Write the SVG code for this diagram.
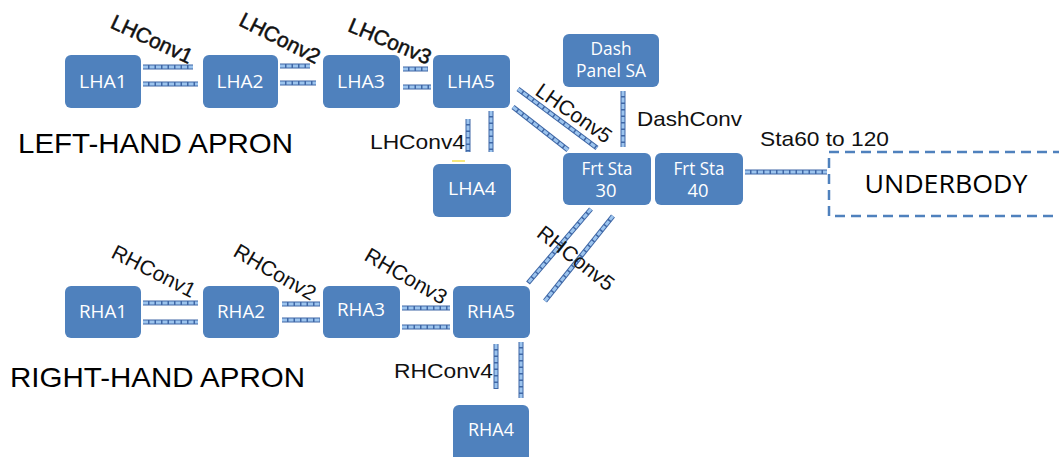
<svg xmlns="http://www.w3.org/2000/svg" width="1059" height="457" viewBox="0 0 1059 457">
<style>
.n{fill:#4f81bd}
.nt{font-family:"Open Sans","Liberation Sans",sans-serif;font-size:17.5px;fill:#fff;text-anchor:middle}
.lb{font-family:"Liberation Sans",Arial,sans-serif;font-size:21px;fill:#111;text-anchor:middle}
.lh{stroke:#111;stroke-width:0.5}
.big{font-family:"Liberation Sans",Arial,sans-serif;font-size:28px;fill:#000}
.cb{stroke:#3f67a6;stroke-width:5;fill:none}
.cd{stroke:#9cc4ee;stroke-width:3;stroke-dasharray:5 1.5;fill:none}
</style>
<rect width="1059" height="457" fill="#fff"/>
<g id="connectors">
  <path class="cb" d="M143 67H193M143 84H198"/><path class="cd" d="M143 67H193M143 84H198"/>
  <path class="cb" d="M280 66H310M280 83H316"/><path class="cd" d="M280 66H310M280 83H316"/>
  <path class="cb" d="M403 69H428M403 87H431"/><path class="cd" d="M403 69H428M403 87H431"/>
  <path class="cb" d="M468 119V152M491 111V152"/><path class="cd" d="M468 119V152M491 111V152"/>
  <path class="cb" d="M518 89L597 148M513 107L568 150"/><path class="cd" d="M518 89L597 148M513 107L568 150"/>
  <path class="cb" d="M623 91V147"/><path class="cd" d="M623 91V147"/>
  <path class="cb" d="M745 172H827"/><path class="cd" d="M745 172H827"/>
  <path class="cb" d="M143 303H198M143 322H198"/><path class="cd" d="M143 303H198M143 322H198"/>
  <path class="cb" d="M282 304H320M282 320H320"/><path class="cd" d="M282 304H320M282 320H320"/>
  <path class="cb" d="M402 308H450M402 327H450"/><path class="cd" d="M402 308H450M402 327H450"/>
  <path class="cb" d="M496 344V389M521 342V398"/><path class="cd" d="M496 344V389M521 342V398"/>
  <path class="cb" d="M591 209L528 283M613 216L545 301"/><path class="cd" d="M591 209L528 283M613 216L545 301"/>
  <line x1="452" y1="161" x2="465" y2="161" stroke="#f5e050" stroke-width="1.5"/>
</g>
<g id="labels">
  <text class="lb lh" transform="translate(152,39) rotate(25)" dy="0.35em">LHConv1</text>
  <text class="lb lh" transform="translate(280,38) rotate(27)" dy="0.35em">LHConv2</text>
  <text class="lb lh" transform="translate(390,41) rotate(23)" dy="0.35em">LHConv3</text>
  <text class="lb" x="465" y="149" style="text-anchor:end" textLength="95" lengthAdjust="spacingAndGlyphs">LHConv4</text>
  <text class="lb" transform="translate(574,113) rotate(35)" dy="0.35em">LHConv5</text>
  <text class="lb" x="637" y="126" style="text-anchor:start" textLength="105" lengthAdjust="spacingAndGlyphs">DashConv</text>
  <text class="lb" x="760" y="146" style="text-anchor:start" textLength="129" lengthAdjust="spacingAndGlyphs">Sta60 to 120</text>
  <text class="lb" transform="translate(154,271) rotate(27)" dy="0.35em">RHConv1</text>
  <text class="lb" transform="translate(275,272) rotate(30)" dy="0.35em">RHConv2</text>
  <text class="lb" transform="translate(406,276) rotate(30)" dy="0.35em">RHConv3</text>
  <text class="lb" x="493" y="378" style="text-anchor:end" textLength="99" lengthAdjust="spacingAndGlyphs">RHConv4</text>
  <text class="lb" transform="translate(576,258) rotate(38)" dy="0.35em">RHConv5</text>
  <text class="big" x="18" y="153" textLength="275" lengthAdjust="spacingAndGlyphs">LEFT-HAND APRON</text>
  <text class="big" x="10" y="387" textLength="295" lengthAdjust="spacingAndGlyphs">RIGHT-HAND APRON</text>
</g>
<g id="LHA1"><rect class="n" x="65" y="55" width="76" height="53" rx="6"/><text class="nt" x="103" y="88" textLength="48" lengthAdjust="spacingAndGlyphs">LHA1</text></g>
<g id="LHA2"><rect class="n" x="203" y="55" width="75" height="53" rx="6"/><text class="nt" x="240" y="88" textLength="47" lengthAdjust="spacingAndGlyphs">LHA2</text></g>
<g id="LHA3"><rect class="n" x="323" y="55" width="77" height="53" rx="6"/><text class="nt" x="361" y="88" textLength="48" lengthAdjust="spacingAndGlyphs">LHA3</text></g>
<g id="LHA5"><rect class="n" x="433" y="55" width="77" height="53" rx="6"/><text class="nt" x="471" y="88" textLength="48" lengthAdjust="spacingAndGlyphs">LHA5</text></g>
<g id="LHA4"><rect class="n" x="433" y="164" width="78" height="53" rx="6"/><text class="nt" x="472" y="195" textLength="48" lengthAdjust="spacingAndGlyphs">LHA4</text></g>
<g id="DashPanelSA"><rect class="n" x="563" y="34" width="96" height="53" rx="6"/><text class="nt" x="611" y="55" textLength="41" lengthAdjust="spacingAndGlyphs">Dash</text><text class="nt" x="611" y="77" textLength="70" lengthAdjust="spacingAndGlyphs">Panel SA</text></g>
<g id="FrtSta30"><rect class="n" x="563" y="153" width="88" height="52" rx="6"/><text class="nt" x="607" y="175" textLength="51" lengthAdjust="spacingAndGlyphs">Frt Sta</text><text class="nt" x="606" y="197" textLength="21" lengthAdjust="spacingAndGlyphs">30</text></g>
<g id="FrtSta40"><rect class="n" x="655" y="153" width="88" height="52" rx="6"/><text class="nt" x="699" y="175" textLength="51" lengthAdjust="spacingAndGlyphs">Frt Sta</text><text class="nt" x="698" y="197" textLength="21" lengthAdjust="spacingAndGlyphs">40</text></g>
<g id="UNDERBODY"><rect x="829" y="152" width="240" height="64" fill="none" stroke="#4f81bd" stroke-width="2.5" stroke-dasharray="10 6"/><text x="946" y="193" font-family="'Open Sans','Liberation Sans',sans-serif" font-size="26" fill="#000" text-anchor="middle" textLength="163" lengthAdjust="spacingAndGlyphs">UNDERBODY</text></g>
<g id="RHA1"><rect class="n" x="65" y="286" width="76" height="52" rx="6"/><text class="nt" x="103" y="318" textLength="48" lengthAdjust="spacingAndGlyphs">RHA1</text></g>
<g id="RHA2"><rect class="n" x="203" y="286" width="76" height="52" rx="6"/><text class="nt" x="241" y="318" textLength="48" lengthAdjust="spacingAndGlyphs">RHA2</text></g>
<g id="RHA3"><rect class="n" x="323" y="286" width="77" height="52" rx="6"/><text class="nt" x="361" y="316" textLength="48" lengthAdjust="spacingAndGlyphs">RHA3</text></g>
<g id="RHA5"><rect class="n" x="453" y="286" width="77" height="52" rx="6"/><text class="nt" x="491" y="318" textLength="48" lengthAdjust="spacingAndGlyphs">RHA5</text></g>
<g id="RHA4"><rect class="n" x="453" y="405" width="76" height="60" rx="6"/><text class="nt" x="491" y="436" textLength="46" lengthAdjust="spacingAndGlyphs">RHA4</text></g>
</svg>
